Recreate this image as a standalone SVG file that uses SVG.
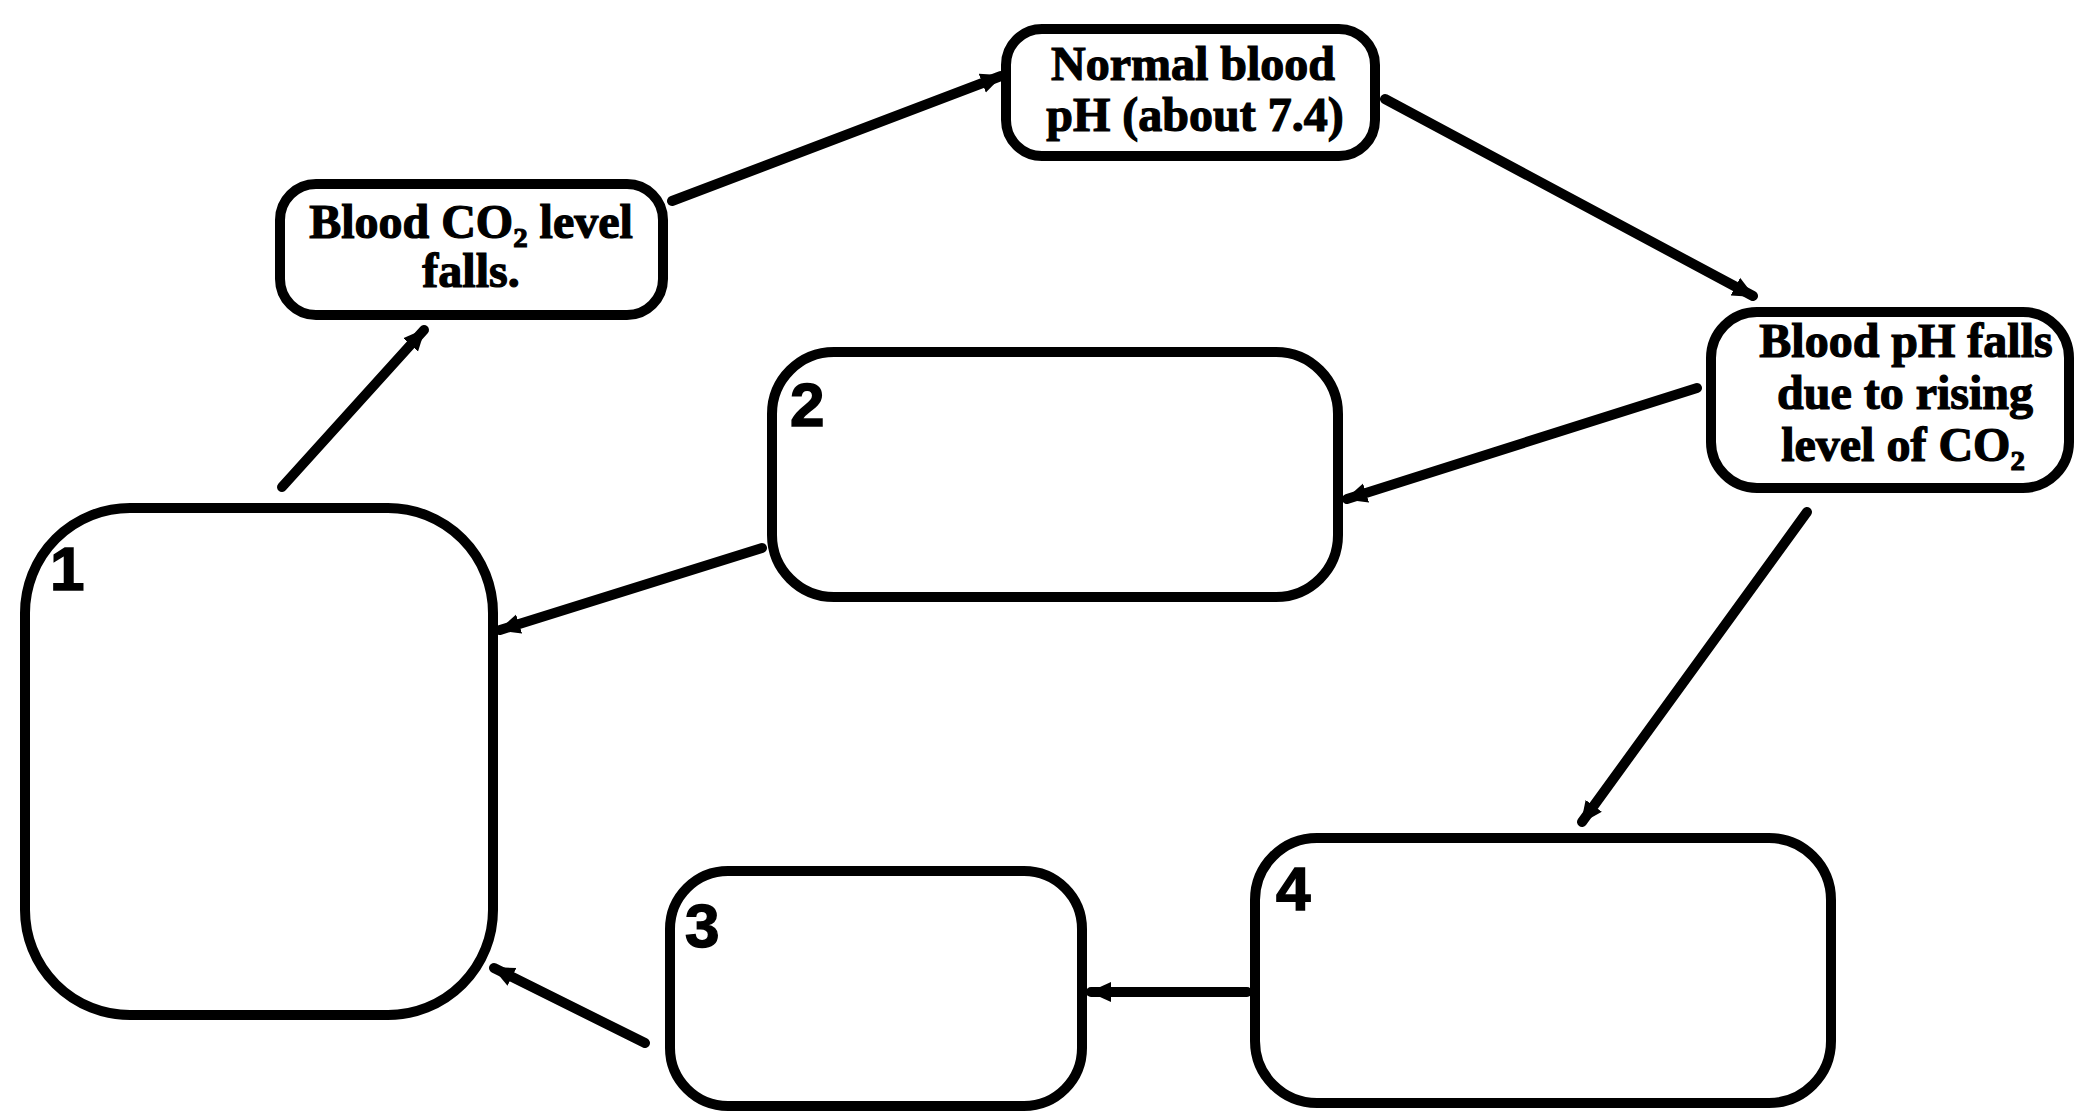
<svg xmlns="http://www.w3.org/2000/svg" width="2074" height="1112" viewBox="0 0 2074 1112">
  <style>
    .box { fill: #ffffff; stroke: #000000; stroke-width: 10; }
    .link { fill: none; stroke: #000000; stroke-width: 10; stroke-linecap: round; }
    .label { font-family: "Liberation Serif", "Times New Roman", serif; font-weight: bold; font-size: 48px; fill: #000000; stroke: #000000; stroke-width: 1.2; text-anchor: middle; }
    .num { font-family: "Liberation Sans", Arial, sans-serif; font-weight: bold; font-size: 62px; fill: #000000; stroke: #000000; stroke-width: 1.5; }
  </style>
  <defs>
    <marker id="head" markerUnits="userSpaceOnUse" markerWidth="22" markerHeight="22" refX="20" refY="11" orient="auto">
      <path d="M0,1 L22,11 L0,21 Z" fill="#000000"/>
    </marker>
  </defs>
  <rect width="2074" height="1112" fill="#ffffff"/>

  <!-- connectors -->
  <g id="connectors">
    <line class="link" x1="282" y1="487" x2="424" y2="330" marker-end="url(#head)"/>
    <line class="link" x1="672" y1="201" x2="1001" y2="76" marker-end="url(#head)"/>
    <line class="link" x1="1385" y1="99" x2="1753" y2="296" marker-end="url(#head)"/>
    <line class="link" x1="1697" y1="388" x2="1347" y2="499" marker-end="url(#head)"/>
    <line class="link" x1="762" y1="548" x2="500" y2="630" marker-end="url(#head)"/>
    <line class="link" x1="1807" y1="512" x2="1582" y2="822" marker-end="url(#head)"/>
    <line class="link" x1="1247" y1="992" x2="1091" y2="992" marker-end="url(#head)"/>
    <line class="link" x1="645" y1="1043" x2="494" y2="968" marker-end="url(#head)"/>
  </g>

  <!-- Blood CO2 level falls -->
  <g id="node-co2-falls">
    <rect class="box" x="280" y="184" width="383" height="131" rx="36"/>
    <text class="label" x="471" y="238">Blood CO₂ level</text>
    <text class="label" x="471" y="287">falls.</text>
  </g>

  <!-- Normal blood pH -->
  <g id="node-normal-ph">
    <rect class="box" x="1006" y="29" width="369" height="127" rx="36"/>
    <text class="label" x="1193" y="80">Normal blood</text>
    <text class="label" x="1195" y="131">pH (about 7.4)</text>
  </g>

  <!-- Blood pH falls -->
  <g id="node-ph-falls">
    <rect class="box" x="1711" y="312" width="358" height="176" rx="46"/>
    <text class="label" x="1906" y="357">Blood pH falls</text>
    <text class="label" x="1905" y="409">due to rising</text>
    <text class="label" x="1903" y="461">level of CO₂</text>
  </g>

  <!-- Box 1 -->
  <g id="node-1">
    <rect class="box" x="25" y="508" width="468" height="507" rx="105"/>
    <text class="num" x="50" y="590">1</text>
  </g>

  <!-- Box 2 -->
  <g id="node-2">
    <rect class="box" x="772" y="352" width="566" height="245" rx="62"/>
    <text class="num" x="790" y="426">2</text>
  </g>

  <!-- Box 3 -->
  <g id="node-3">
    <rect class="box" x="670" y="871" width="412" height="235" rx="58"/>
    <text class="num" x="685" y="947">3</text>
  </g>

  <!-- Box 4 -->
  <g id="node-4">
    <rect class="box" x="1255" y="838" width="576" height="265" rx="62"/>
    <text class="num" x="1276" y="910">4</text>
  </g>
</svg>
